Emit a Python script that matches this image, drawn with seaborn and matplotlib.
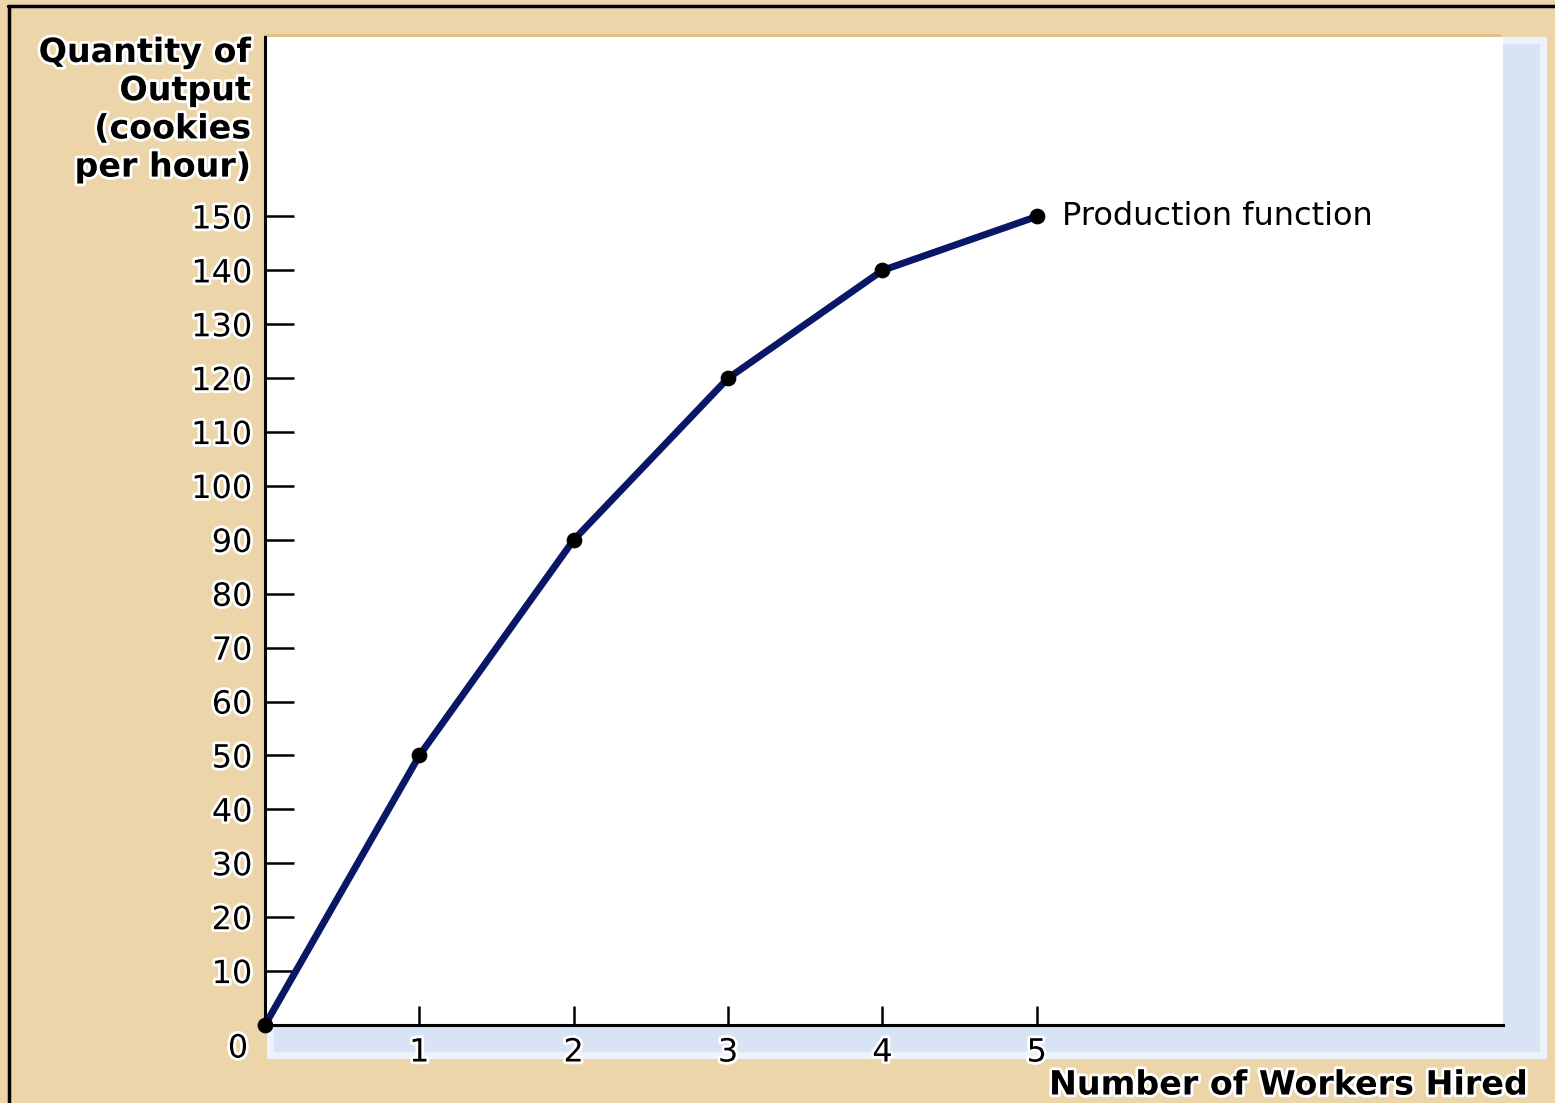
import matplotlib
matplotlib.use("Agg")
import matplotlib.pyplot as plt
import matplotlib.patheffects as pe
from matplotlib.patches import Rectangle
from matplotlib.lines import Line2D
import seaborn as sns
import pandas as pd

workers = [0, 1, 2, 3, 4, 5]
output = [0, 50, 90, 120, 140, 150]
y_ticks = [10, 20, 30, 40, 50, 60, 70, 80, 90, 100, 110, 120, 130, 140, 150]
x_ticks = [1, 2, 3, 4, 5]
curve_label = "Production function"
y_title = "Quantity of\nOutput\n(cookies\nper hour)"
x_title = "Number of Workers Hired"

df = pd.DataFrame({"workers": workers, "output": output})

sns.set_theme(style="white")
plt.rcParams['font.family'] = ['DejaVu Sans']

W, H = 1555, 1103
tan = "#EBD5A9"
fig = plt.figure(figsize=(W / 100, H / 100), dpi=100, facecolor=tan)

# blue shadow panel
fig.patches.append(Rectangle((270 / W, 1 - 1055 / H), (1543 - 270) / W, (1055 - 40) / H,
                             transform=fig.transFigure, facecolor="#D9E3F6",
                             edgecolor="#EEF2FB", linewidth=5, zorder=-5))
# darker tan band above plot
fig.lines.append(Line2D([265 / W, 1500 / W], [1 - 35 / H, 1 - 35 / H], transform=fig.transFigure,
                        color="#DFC08A", linewidth=2, zorder=-5))
# frame borders
fig.lines.append(Line2D([8 / W, 1], [1 - 6 / H, 1 - 6 / H], transform=fig.transFigure,
                        color="black", linewidth=2.5, zorder=-5))
fig.lines.append(Line2D([9 / W, 9 / W], [0, 1 - 6 / H], transform=fig.transFigure,
                        color="black", linewidth=2.5, zorder=-5))

ax = fig.add_axes([265 / W, 1 - 1025 / H, (1503 - 265) / W, (1025 - 37) / H])
ax.set_zorder(1)
ax.set_facecolor("white")
ax.set_xlim(0, 8.02)
ax.set_ylim(0, 183.3)

sns.lineplot(data=df, x="workers", y="output", ax=ax, color="#0A1766", linewidth=5,
             clip_on=False, zorder=3)
sns.scatterplot(data=df, x="workers", y="output", ax=ax, color="black", s=110,
                edgecolor="black", clip_on=False, zorder=4)

halo = [pe.withStroke(linewidth=4, foreground="white")]

ax.set_yticks(y_ticks)
ax.set_yticklabels([str(v) for v in y_ticks])
ax.set_xticks(x_ticks)
ax.set_xticklabels([str(v) for v in x_ticks])
ax.tick_params(axis="y", direction="in", length=21, width=1.8, color="black", pad=9,
               labelsize=23, left=True)
ax.tick_params(axis="x", direction="in", length=14, width=1.8, color="black", pad=9,
               labelsize=23, bottom=True)
for lab in ax.get_yticklabels() + ax.get_xticklabels():
    lab.set_path_effects(halo)
    lab.set_color("black")

for s in ["top", "right"]:
    ax.spines[s].set_visible(False)
for s in ["left", "bottom"]:
    ax.spines[s].set_color("black")
    ax.spines[s].set_linewidth(2.2)

ax.set_xlabel("")
ax.set_ylabel("")

# zero label at corner
fig.text(238 / W, 1 - 1049 / H, "0", ha="center", va="center", fontsize=23,
         color="black", path_effects=halo)

ax.text(5.16, 150, curve_label, ha="left", va="center", fontsize=23, color="black")

fig.text(251 / W, 1 - 36 / H, y_title, ha="right", va="top", multialignment="right",
         fontsize=24, fontweight="bold", linespacing=1.2, color="black", path_effects=halo)
fig.text(1528 / W, 1 - 1085 / H, x_title, ha="right", va="center", fontsize=24,
         fontweight="bold", color="black", path_effects=halo)

fig.savefig("out.png", dpi=100, facecolor=tan)
